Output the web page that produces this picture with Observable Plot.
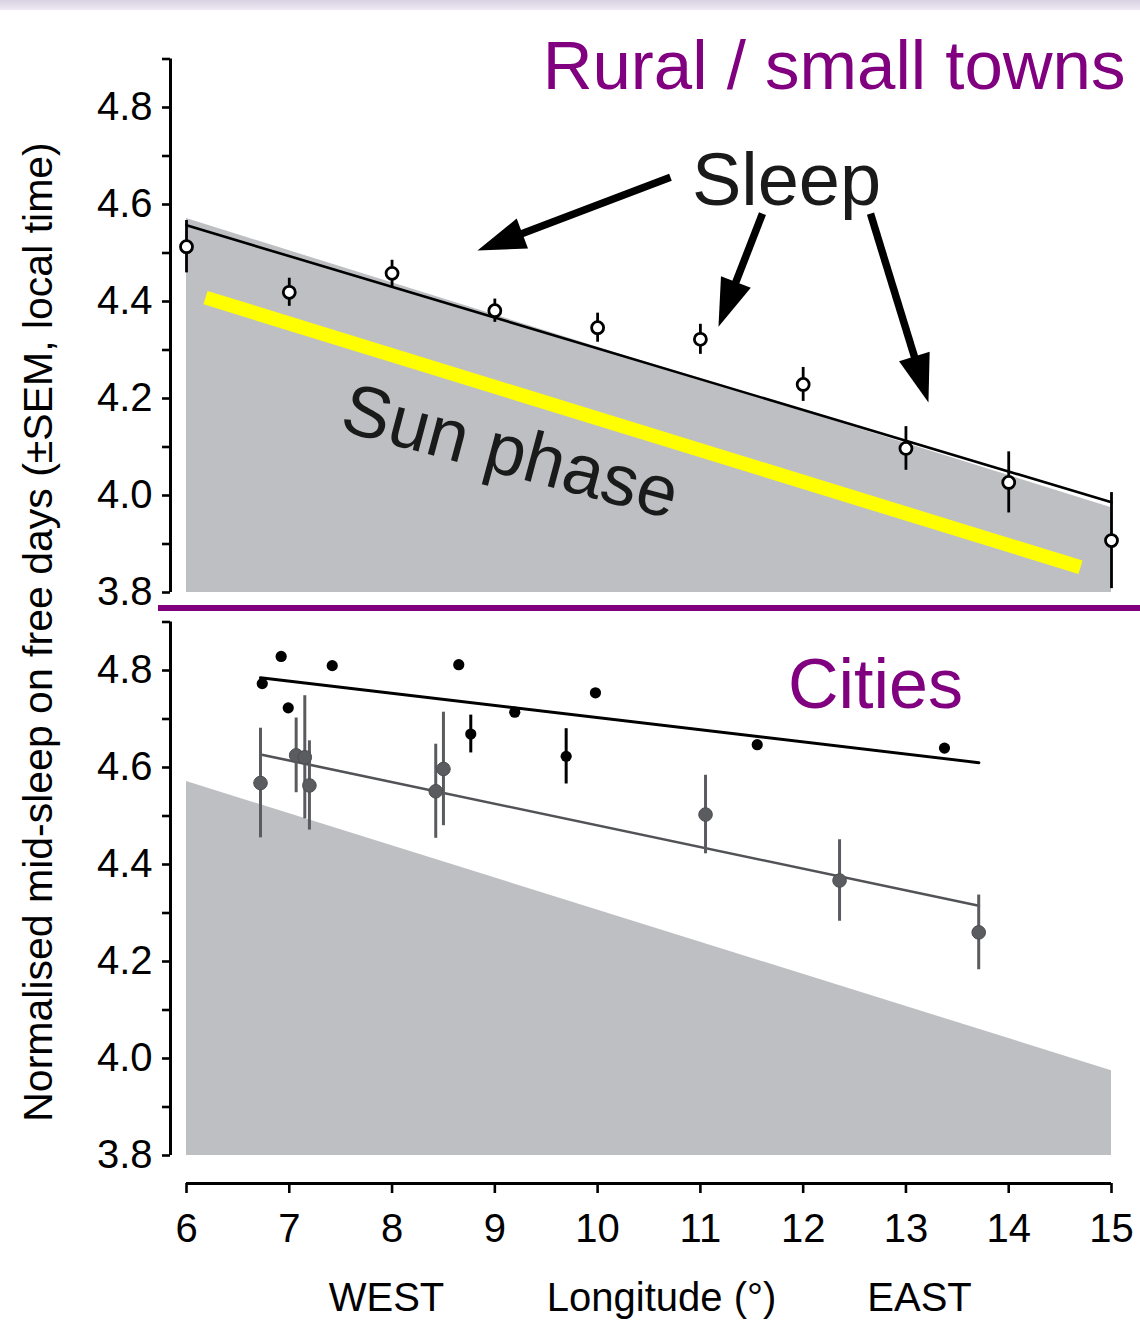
<!DOCTYPE html>
<html>
<head>
<meta charset="utf-8">
<script src="https://cdn.jsdelivr.net/npm/d3@7"></script>
<script src="https://cdn.jsdelivr.net/npm/@observablehq/plot@0.6"></script>
<style>
  body { margin: 0; background: #fff; }
  #wrap { position: relative; width: 1140px; height: 1320px; overflow: hidden;
          font-family: "Liberation Sans", Arial, Helvetica, sans-serif; background: #fff; }
  #wrap svg { display: block; }
  #strip { position: absolute; left: 0; top: 0; width: 1140px; height: 10px;
           background: linear-gradient(#d9d2e3, #eee9f3); }
  #sep { position: absolute; left: 158px; top: 605px; width: 982px; height: 6px; background: #800080; }
  #ytitle { position: absolute; left: 38px; top: 632px; transform: translate(-50%, -50%) rotate(-90deg);
            white-space: nowrap; font-size: 41px; color: #000; line-height: 1; }
</style>
</head>
<body>
<div id="wrap">
  <div id="top"></div>
  <div id="bottom"></div>
  <div id="strip"></div>
  <div id="sep"></div>
  <div id="ytitle">Normalised mid-sleep on free days (±SEM, local time)</div>
</div>
<script>
// ---------------- DATA ----------------
// Rural / small towns (open circles, ±SEM)
const ruralLon = [6, 7, 8, 9, 10, 11, 12, 13, 14, 15];
const ruralMid = [4.513, 4.419, 4.458, 4.381, 4.346, 4.322, 4.229, 4.097, 4.027, 3.907];
const ruralSem = [0.054, 0.029, 0.027, 0.024, 0.030, 0.031, 0.035, 0.045, 0.063, 0.099];
const ruralFitLon = [6, 15];
const ruralFitMid = [4.557, 3.986];

// Sun phase (grey area) and yellow sun line
const sunLon = [6, 15];
const sunPhase = [4.571, 3.975];
const sunLineLon = [6.185, 14.698];
const sunLineMid = [4.408, 3.852];

// Cities – black dots
const cityBlackLon = [6.737, 6.921, 6.990, 7.418, 8.649, 8.766, 9.194, 9.694, 9.979, 11.553, 13.375];
const cityBlackMid = [4.773, 4.829, 4.723, 4.810, 4.812, 4.669, 4.714, 4.623, 4.754, 4.647, 4.640];
const cityBlackSem = [null, null, null, null, null, 0.039, null, 0.057, null, null, null];
const cityBlackFitLon = [6.72, 13.71];
const cityBlackFitMid = [4.785, 4.610];

// Cities – grey dots
const cityGrayLon = [6.720, 7.067, 7.151, 7.196, 8.425, 8.500, 11.050, 12.354, 13.708];
const cityGrayMid = [4.568, 4.625, 4.621, 4.563, 4.551, 4.597, 4.503, 4.367, 4.260];
const cityGraySem = [0.113, 0.077, 0.127, 0.092, 0.097, 0.117, 0.081, 0.084, 0.077];
const cityGrayFitLon = [6.72, 13.71];
const cityGrayFitMid = [4.627, 4.315];

// Ticks
const xTicks = [6, 7, 8, 9, 10, 11, 12, 13, 14, 15];
const yTicks = [3.8, 3.9, 4.0, 4.1, 4.2, 4.3, 4.4, 4.5, 4.6, 4.7, 4.8, 4.9];

// Texts
const titleRural = "Rural / small towns";
const titleCities = "Cities";
const labelSleep = "Sleep";
const labelSun = "Sun phase";
const xWords = ["WEST", "Longitude (°)", "EAST"];

// Annotation anchors (data units)
const xWordsLon = [7.946, 10.622, 13.132];
const arrowTailLon = [10.709, 11.604, 12.655];
const arrowTailMid = [4.656, 4.581, 4.581];
const arrowTipLon = [8.831, 11.176, 13.219];
const arrowTipMid = [4.505, 4.348, 4.192];

// ---------------- LAYOUT ----------------
const W = 1140, ML = 170, MR = 29;
const X_DOMAIN = [5.8443, 15];
const Y_DOMAIN = [3.8, 4.9];
const TOP_H = 600, TOP_MT = 58.5, TOP_MB = 8;
const BOT_H = 720, BOT_MT = 21.5, BOT_MB = 137;
const PX_PER_UNIT_Y = (TOP_H - TOP_MT - TOP_MB) / (Y_DOMAIN[1] - Y_DOMAIN[0]);
const BOT_Y_DOMAIN = [Y_DOMAIN[0] - 28 / PX_PER_UNIT_Y, Y_DOMAIN[1]];
const PURPLE = "#800080";
const SUN_GREY = "#bebfc3";
const DOT_GREY = "#5b5c5f";
const font = '"Liberation Sans", Arial, Helvetica, sans-serif';

const zip = (keys, ...arrs) => arrs[0].map((_, i) => Object.fromEntries(keys.map((k, j) => [k, arrs[j][i]])));

const rural = zip(["lon", "mid", "sem"], ruralLon, ruralMid, ruralSem);
const ruralFit = zip(["lon", "mid"], ruralFitLon, ruralFitMid);
const sun = zip(["lon", "phase"], sunLon, sunPhase);
const sunLine = zip(["lon", "mid"], sunLineLon, sunLineMid);
const black = zip(["lon", "mid", "sem"], cityBlackLon, cityBlackMid, cityBlackSem);
const blackFit = zip(["lon", "mid"], cityBlackFitLon, cityBlackFitMid);
const grey = zip(["lon", "mid", "sem"], cityGrayLon, cityGrayMid, cityGraySem);
const greyFit = zip(["lon", "mid"], cityGrayFitLon, cityGrayFitMid);

// pixel helpers (same scales as the top plot) for arrow geometry
const sx = Plot.scale({x: {domain: X_DOMAIN, range: [ML, W - MR]}});
const sy = Plot.scale({y: {domain: Y_DOMAIN, range: [TOP_H - TOP_MB, TOP_MT]}});
const HEAD = 48;
const arrows = arrowTailLon.map((_, i) => {
  const x0 = sx.apply(arrowTailLon[i]), y0 = sy.apply(arrowTailMid[i]);
  const x1 = sx.apply(arrowTipLon[i]), y1 = sy.apply(arrowTipMid[i]);
  const dx = x1 - x0, dy = y1 - y0, len = Math.hypot(dx, dy);
  const f = (HEAD * 0.75) / len;
  return {
    tailLon: arrowTailLon[i], tailMid: arrowTailMid[i],
    tipLon: arrowTipLon[i], tipMid: arrowTipMid[i],
    endLon: arrowTipLon[i] + (arrowTailLon[i] - arrowTipLon[i]) * f,
    endMid: arrowTipMid[i] + (arrowTailMid[i] - arrowTipMid[i]) * f,
    angle: Math.atan2(dx, -dy) * 180 / Math.PI
  };
});

const yAxis = () => [
  Plot.ruleX([X_DOMAIN[0]], {y1: Y_DOMAIN[0], y2: Y_DOMAIN[1], stroke: "black", strokeWidth: 3}),
  Plot.axisY({
    ticks: yTicks, tickSize: 8, tickPadding: 10, strokeWidth: 2.6, fontSize: 40, label: null,
    tickFormat: d => (Math.round(d * 10) % 2 === 0 ? d.toFixed(1) : "")
  })
];

const style = {fontFamily: font, fontSize: "40px", background: "transparent", overflow: "visible", color: "black"};

// ---------------- TOP PANEL ----------------
const topPlot = Plot.plot({
  width: W, height: TOP_H,
  marginLeft: ML, marginRight: MR, marginTop: TOP_MT, marginBottom: TOP_MB,
  x: {domain: X_DOMAIN, axis: null},
  y: {domain: Y_DOMAIN},
  style,
  marks: [
    Plot.areaY(sun, {x: "lon", y1: Y_DOMAIN[0], y2: "phase", fill: SUN_GREY}),
    Plot.line(sunLine, {x: "lon", y: "mid", stroke: "#ffff00", strokeWidth: 14, strokeLinecap: "butt"}),
    Plot.line(ruralFit, {x: "lon", y: "mid", stroke: "black", strokeWidth: 2.6}),
    Plot.ruleX(rural, {x: "lon", y1: d => d.mid - d.sem, y2: d => d.mid + d.sem, stroke: "black", strokeWidth: 2.8}),
    Plot.dot(rural, {x: "lon", y: "mid", r: 6, fill: "white", stroke: "black", strokeWidth: 2.8}),
    Plot.text([labelSun], {x: 9.15, y: 4.089, text: d => d, rotate: 15, fontSize: 72,
      textAnchor: "middle", lineAnchor: "middle", fill: "#1a1a1a"}),
    Plot.text([labelSleep], {x: 11.838, y: 4.598, text: d => d, fontSize: 74,
      textAnchor: "middle", lineAnchor: "bottom", fill: "#1a1a1a"}),
    Plot.text([titleRural], {x: 15.136, y: 4.839, text: d => d, fontSize: 69,
      textAnchor: "end", lineAnchor: "bottom", fill: PURPLE}),
    Plot.link(arrows, {x1: "tailLon", y1: "tailMid", x2: "endLon", y2: "endMid",
      stroke: "black", strokeWidth: 7.5, strokeLinecap: "butt"}),
    Plot.vector(arrows, {x: "tipLon", y: "tipMid", rotate: "angle", length: HEAD, r: 16,
      shape: "spike", anchor: "end", fill: "black", stroke: "none"}),
    ...yAxis()
  ]
});
document.getElementById("top").append(topPlot);

// ---------------- BOTTOM PANEL ----------------
const botPlot = Plot.plot({
  width: W, height: BOT_H,
  marginLeft: ML, marginRight: MR, marginTop: BOT_MT, marginBottom: BOT_MB,
  x: {domain: X_DOMAIN},
  y: {domain: BOT_Y_DOMAIN},
  style,
  marks: [
    Plot.areaY(sun, {x: "lon", y1: Y_DOMAIN[0], y2: "phase", fill: SUN_GREY}),
    Plot.line(greyFit, {x: "lon", y: "mid", stroke: "#525356", strokeWidth: 2.6}),
    Plot.ruleX(grey, {x: "lon", y1: d => d.mid - d.sem, y2: d => d.mid + d.sem, stroke: "#5a5b5e", strokeWidth: 3}),
    Plot.dot(grey, {x: "lon", y: "mid", r: 6.8, fill: DOT_GREY, stroke: "#4c4d50", strokeWidth: 1}),
    Plot.line(blackFit, {x: "lon", y: "mid", stroke: "black", strokeWidth: 3}),
    Plot.ruleX(black.filter(d => d.sem != null), {x: "lon", y1: d => d.mid - d.sem, y2: d => d.mid + d.sem, stroke: "black", strokeWidth: 3}),
    Plot.dot(black, {x: "lon", y: "mid", r: 5.6, fill: "black"}),
    Plot.text([titleCities], {x: 12.704, y: 4.722, text: d => d, fontSize: 70,
      textAnchor: "middle", lineAnchor: "bottom", fill: PURPLE}),
    ...yAxis(),
    Plot.ruleY([BOT_Y_DOMAIN[0]], {x1: xTicks[0], x2: xTicks[xTicks.length - 1], stroke: "black", strokeWidth: 3}),
    Plot.axisX({ticks: xTicks, tickSize: 10, tickPadding: 20, strokeWidth: 2.6, fontSize: 40, label: null,
      tickFormat: d => String(d)}),
    Plot.text(xWords, {x: (d, i) => xWordsLon[i], text: d => d, frameAnchor: "bottom", dy: 127,
      fontSize: 40, textAnchor: "middle", lineAnchor: "bottom", fill: "black"})
  ]
});
document.getElementById("bottom").append(botPlot);
</script>
</body>
</html>
